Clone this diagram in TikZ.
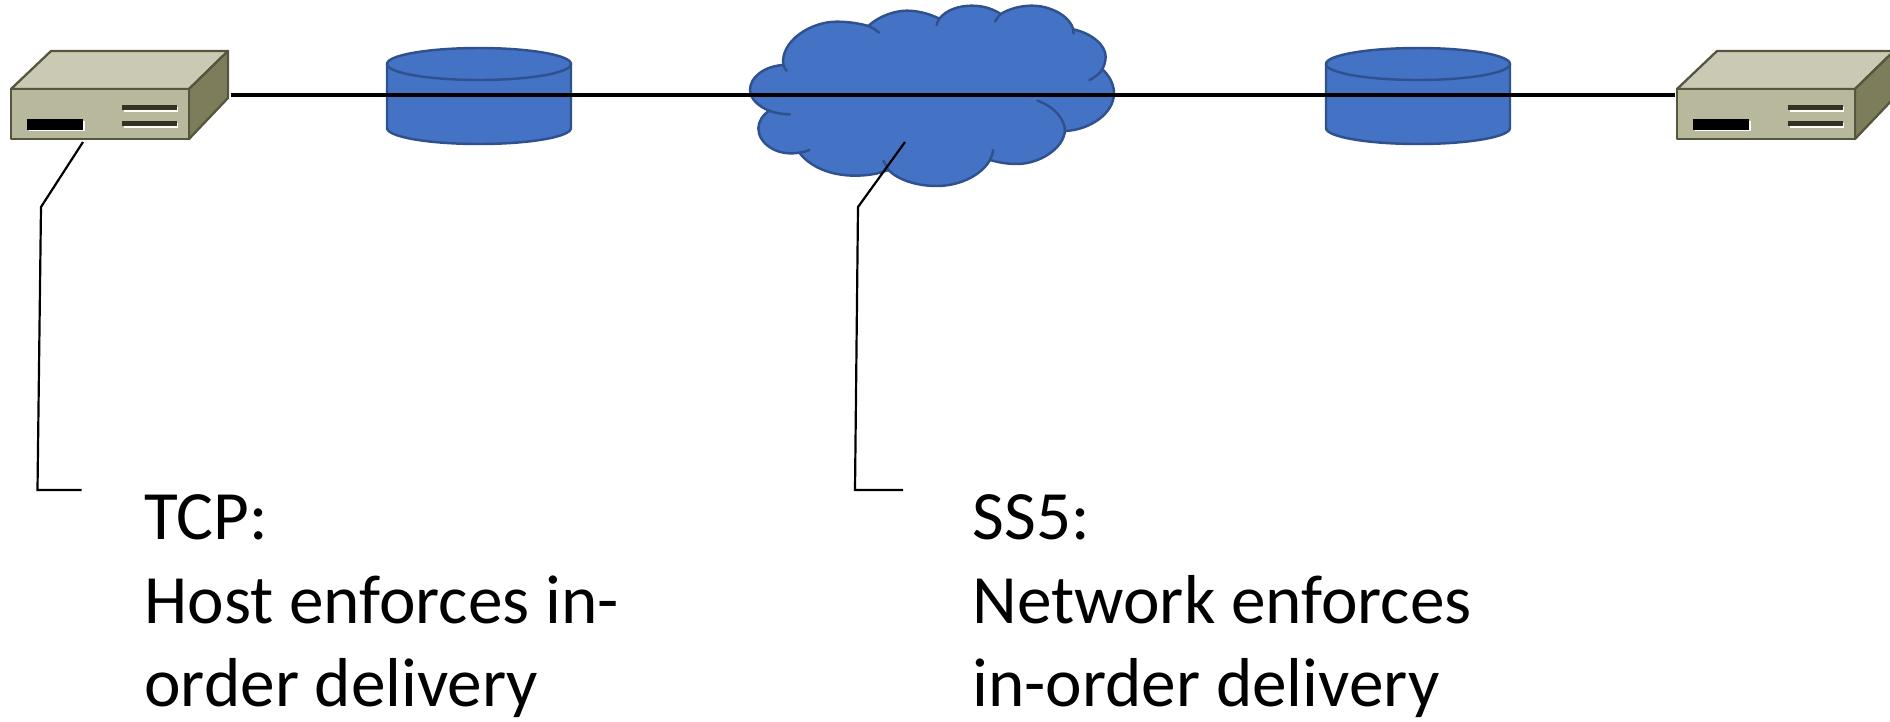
\documentclass[tikz,border=0pt]{standalone}
\usepackage{fontspec}
\setmainfont{Carlito}
\definecolor{blobblue}{HTML}{4472C4}
\definecolor{blobedge}{HTML}{2F528F}
\definecolor{boxtop}{HTML}{C9C9B4}
\definecolor{boxfront}{HTML}{B8B89C}
\definecolor{boxside}{HTML}{7D7D5C}
\definecolor{boxedge}{HTML}{56563E}
\definecolor{boxslot}{HTML}{33331F}
\tikzset{
  boxface/.style={draw=boxedge,line width=1.3pt,line join=round},
  front/.style={boxface,fill=boxfront,inner sep=0pt,outer sep=0pt,minimum width=3.56cm,minimum height=1cm},
  blob/.style={draw=blobedge,line width=1.4pt,line join=round,line cap=round},
  link/.style={line width=2.4pt},
  callout/.style={line width=1.25pt,line join=miter},
  note/.style={anchor=base west,inner sep=0pt,outer sep=0pt,align=left,font=\fontsize{39.4}{47.5}\selectfont}
}
\begin{document}
\begin{tikzpicture}[line join=round,x=0.02cm,y=-0.02cm]
\clip (0,0) rectangle (1890,721);
\foreach \cx in {479,1418}{
\fill[blobblue] (\cx-92,64) -- (\cx-92,128) arc[start angle=180,end angle=360,x radius=92,y radius=-16] -- (\cx+92,64) arc[start angle=0,end angle=180,x radius=92,y radius=-16] -- cycle;
\draw[blob] (\cx-92,64) -- (\cx-92,128) arc[start angle=180,end angle=360,x radius=92,y radius=-16] -- (\cx+92,64);
\draw[blob] (\cx,64) ellipse[x radius=92,y radius=16];
}
\begin{scope}[shift={(730,0)},x=0.00667cm,y=-0.00667cm]
\draw[blob,fill=blobblue] (160,195) .. controls (150,125) and (240,65) .. (320,65) .. controls (360,65) and (395,72) .. (415,78)
 .. controls (450,45) and (500,32) .. (530,32) .. controls (565,32) and (600,42) .. (628,56)
 .. controls (650,28) and (690,17) .. (725,17) .. controls (760,17) and (790,27) .. (812,42)
 .. controls (840,25) and (875,17) .. (905,17) .. controls (965,17) and (1020,50) .. (1030,88)
 .. controls (1085,100) and (1127,135) .. (1127,170) .. controls (1127,185) and (1122,198) .. (1117,208)
 .. controls (1140,228) and (1152,255) .. (1152,280) .. controls (1152,340) and (1080,390) .. (1005,393)
 .. controls (1000,445) and (930,492) .. (860,492) .. controls (830,492) and (805,487) .. (780,480)
 .. controls (755,525) and (690,558) .. (620,558) .. controls (560,558) and (505,540) .. (475,510)
 .. controls (445,522) and (410,527) .. (375,527) .. controls (300,527) and (240,500) .. (208,458)
 .. controls (140,470) and (85,430) .. (85,385) .. controls (85,365) and (98,345) .. (118,332)
 .. controls (85,320) and (60,295) .. (60,270) .. controls (60,230) and (105,198) .. (160,195) -- cycle;
\draw[blob] (160,195) .. controls (162,202) and (166,208) .. (170,212);
\draw[blob] (415,78) .. controls (428,83) and (438,90) .. (447,98);
\draw[blob] (628,56) .. controls (624,62) and (621,68) .. (620,75);
\draw[blob] (812,42) .. controls (806,48) and (800,56) .. (795,65);
\draw[blob] (1030,88) -- (1030,100);
\draw[blob] (1117,208) .. controls (1108,222) and (1095,232) .. (1078,240);
\draw[blob] (922,302) .. controls (975,320) and (1005,360) .. (1005,393);
\draw[blob] (780,480) .. controls (785,470) and (788,460) .. (790,450);
\draw[blob] (475,510) .. controls (470,500) and (466,490) .. (460,482);
\draw[blob] (208,458) .. controls (218,457) and (228,454) .. (238,450);
\draw[blob] (118,332) .. controls (138,340) and (160,343) .. (180,343);
\end{scope}
\foreach \n/\dx in {1/0,2/1666}{
\begin{scope}[shift={(\dx,0)}]
\draw[boxface,fill=boxtop] (11,89) -- (51,51) -- (228,51) -- (189,89) -- cycle;
\draw[boxface,fill=boxside] (189,89) -- (228,51) -- (228,98) -- (189,139) -- cycle;
\node[front] (host\n) at (100,114) {};
\fill[white] (29,121) rectangle (85,131);
\fill[black] (27,119) rectangle (83,130);
\foreach \y in {105,121}{
\fill[white] (124,\y+2) rectangle (178,\y+7);
\fill[boxslot] (122,\y) rectangle (177,\y+5);
}
\end{scope}
}
\coordinate (port1) at (231,95);
\coordinate (port2) at (1675,95);
\draw[link] (port1) -- (port2);
\coordinate (tcpa) at (83,142);
\coordinate (tcpb) at (41,207);
\coordinate (tcpc) at (37.5,490);
\coordinate (tcpd) at (81.5,490);
\coordinate (ssa) at (905,142);
\coordinate (ssb) at (858,207);
\coordinate (ssc) at (855,490);
\coordinate (ssd) at (903,490);
\draw[callout] (tcpa) -- (tcpb) -- (tcpc) -- (tcpd);
\draw[callout] (ssa) -- (ssb) -- (ssc) -- (ssd);
\node[note] (tcpnote) at (144.5,706.5) {TCP:\\Host enforces in-\\order delivery};
\node[note] (ssnote) at (972.5,706.5) {SS5:\\Network enforces\\in-order delivery};
\end{tikzpicture}
\end{document}
